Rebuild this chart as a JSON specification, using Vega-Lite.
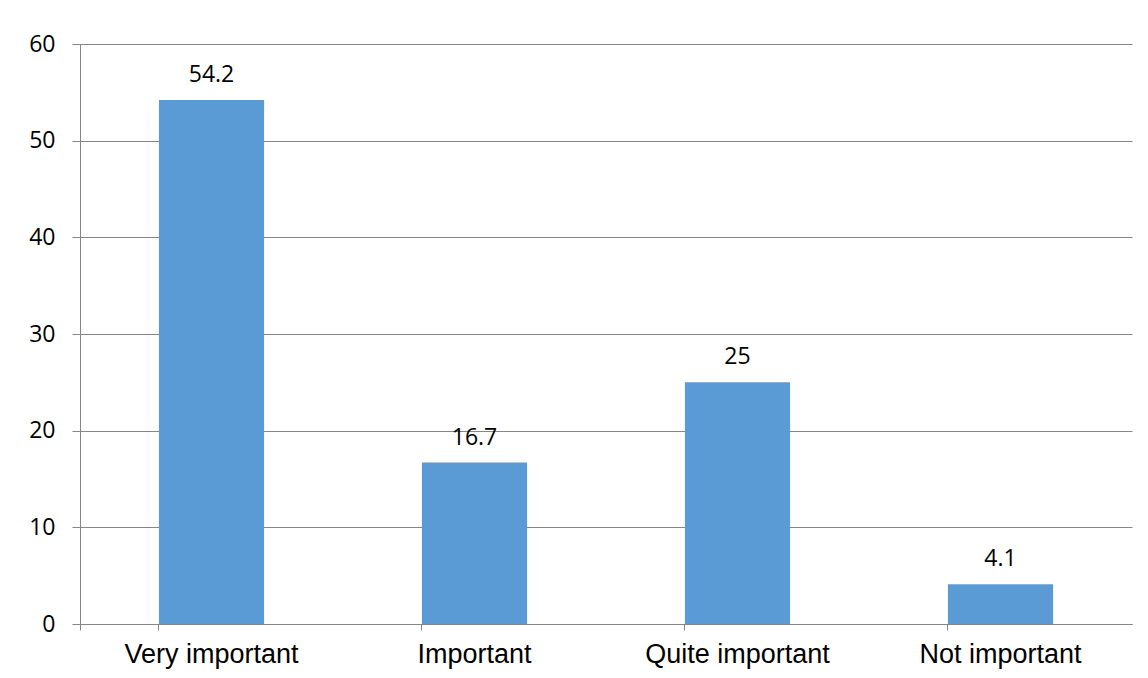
{
  "$schema": "https://vega.github.io/schema/vega-lite/v6.json",
  "width": 1052,
  "height": 580,
  "autosize": {"type": "none"},
  "padding": {"left": 80, "top": 44, "right": 16, "bottom": 54},
  "background": "white",
  "config": {"view": {"stroke": null}},
  "data": {"values": [
    {"category": "Very important", "value": 54.2},
    {"category": "Important", "value": 16.7},
    {"category": "Quite important", "value": 25},
    {"category": "Not important", "value": 4.1}
  ]},
  "encoding": {
    "x": {
      "field": "category", "type": "nominal", "sort": null,
      "scale": {"paddingInner": 0.6, "paddingOuter": 0.3},
      "axis": {
        "title": null, "labelAngle": 0, "labelFont": "Liberation Sans", "labelFontSize": 27,
        "labelLimit": 400, "labelOverlap": false,
        "labelColor": "#000000", "labelPadding": 11, "bandPosition": 0, "tickSize": 6,
        "tickColor": "#868686", "domainColor": "#868686", "grid": false, "tickExtra": true
      }
    },
    "y": {
      "field": "value", "type": "quantitative",
      "scale": {"domain": [0, 60], "nice": false},
      "axis": {
        "title": null, "values": [0, 10, 20, 30, 40, 50, 60], "labelFont": "Open Sans",
        "labelFontSize": 23, "labelColor": "#000000", "labelPadding": 17, "tickSize": 8,
        "tickColor": "#868686", "domainColor": "#868686", "gridColor": "#868686", "grid": true
      }
    }
  },
  "layer": [
    {"mark": {"type": "bar", "color": "#5B9BD5"}},
    {"mark": {"type": "text", "dy": -25, "font": "Open Sans", "fontSize": 23, "color": "#000000"},
     "encoding": {"text": {"field": "value", "type": "quantitative"}}}
  ]
}
